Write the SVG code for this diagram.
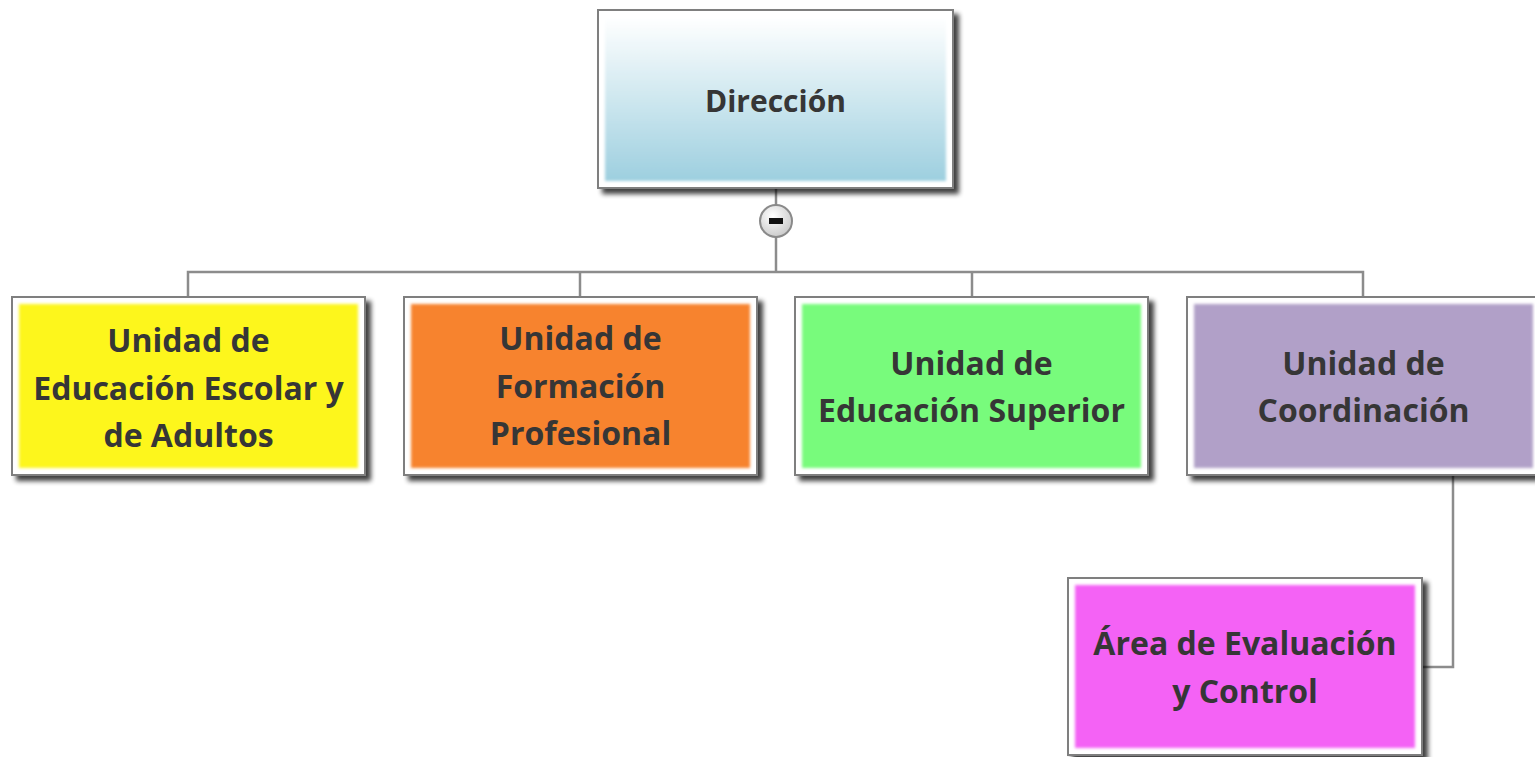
<svg xmlns="http://www.w3.org/2000/svg" width="1535" height="757" viewBox="0 0 1535 757">
<style>
.frame{stroke:#7f7f7f;stroke-width:2;fill:#ffffff}
.lbl{font-family:"Open Sans","Noto Sans","DejaVu Sans",sans-serif;font-weight:700;font-size:32px;fill:#363636;text-anchor:middle}
.dir{font-size:30px}
.conn{stroke:#8c8c8c;stroke-width:2.5;fill:none}
</style>
<defs>
<filter id="sh" x="-10%" y="-10%" width="125%" height="130%">
<feGaussianBlur in="SourceAlpha" stdDeviation="2.5"/>
<feOffset dx="5" dy="5" result="b"/>
<feComponentTransfer><feFuncA type="linear" slope="0.75"/></feComponentTransfer>
<feMerge><feMergeNode/><feMergeNode in="SourceGraphic"/></feMerge>
</filter>
<filter id="soft" x="-5%" y="-5%" width="110%" height="110%">
<feGaussianBlur stdDeviation="1.8"/>
</filter>
<linearGradient id="gDir" x1="0" y1="0" x2="0" y2="1">
<stop offset="0" stop-color="#ffffff"/>
<stop offset="1" stop-color="#9dcfdf"/>
</linearGradient>
<radialGradient id="gBtn" cx="0.4" cy="0.35" r="0.7">
<stop offset="0" stop-color="#ffffff"/>
<stop offset="1" stop-color="#c8c8c8"/>
</radialGradient>
</defs>
<g id="connectors">
<line class="conn" x1="776" y1="188" x2="776" y2="272"/>
<polyline class="conn" points="188,297 188,272 1363,272 1363,297"/>
<line class="conn" x1="580" y1="272" x2="580" y2="297"/>
<line class="conn" x1="972" y1="272" x2="972" y2="297"/>
<polyline class="conn" points="1453,475 1453,667 1422,667"/>
<g id="collapse">
<circle cx="776" cy="221" r="16" fill="url(#gBtn)" stroke="#8a8a8a" stroke-width="2"/>
<rect x="769" y="218" width="14" height="6" fill="#111"/>
</g>
</g>
<g id="n-direccion">
<rect class="frame" x="598" y="10" width="355" height="178" filter="url(#sh)"/>
<rect x="605" y="17" width="341" height="164" fill="url(#gDir)" filter="url(#soft)"/>
<text class="lbl dir" x="775.5" y="112">Dirección</text>
</g>
<g id="n-escolar">
<rect class="frame" x="12" y="297" width="353" height="178" filter="url(#sh)"/>
<rect x="19" y="304" width="339" height="164" fill="#fdf61f" filter="url(#soft)"/>
<text class="lbl" x="188.5" y="352">Unidad de</text>
<text class="lbl" x="188.5" y="400">Educación Escolar y</text>
<text class="lbl" x="188.5" y="447">de Adultos</text>
</g>
<g id="n-formacion">
<rect class="frame" x="404" y="297" width="353" height="178" filter="url(#sh)"/>
<rect x="411" y="304" width="339" height="164" fill="#f7832f" filter="url(#soft)"/>
<text class="lbl" x="580.5" y="350">Unidad de</text>
<text class="lbl" x="580.5" y="398">Formación</text>
<text class="lbl" x="580.5" y="445">Profesional</text>
</g>
<g id="n-superior">
<rect class="frame" x="795" y="297" width="353" height="178" filter="url(#sh)"/>
<rect x="802" y="304" width="339" height="164" fill="#78fb7b" filter="url(#soft)"/>
<text class="lbl" x="971.5" y="375">Unidad de</text>
<text class="lbl" x="971.5" y="422">Educación Superior</text>
</g>
<g id="n-coordinacion">
<rect class="frame" x="1187" y="297" width="353" height="178" filter="url(#sh)"/>
<rect x="1194" y="304" width="339" height="164" fill="#b1a0c8" filter="url(#soft)"/>
<text class="lbl" x="1363.5" y="375">Unidad de</text>
<text class="lbl" x="1363.5" y="422">Coordinación</text>
</g>
<g id="n-evaluacion">
<rect class="frame" x="1068" y="578" width="354" height="177" filter="url(#sh)"/>
<rect x="1075" y="585" width="340" height="163" fill="#f462f5" filter="url(#soft)"/>
<text class="lbl" x="1245" y="655">Área de Evaluación</text>
<text class="lbl" x="1245" y="703">y Control</text>
</g>
</svg>
